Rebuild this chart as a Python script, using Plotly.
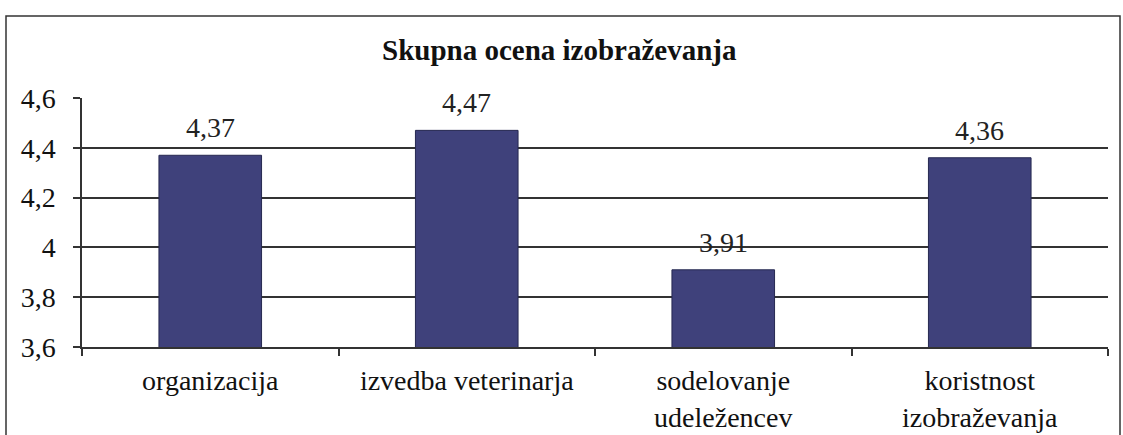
import plotly.graph_objects as go

categories = ["organizacija", "izvedba veterinarja", "sodelovanje<br>udeležencev", "koristnost<br>izobraževanja"]
values = [4.37, 4.47, 3.91, 4.36]
value_labels = ["4,37", "4,47", "3,91", "4,36"]
y_ticks = [3.6, 3.8, 4.0, 4.2, 4.4, 4.6]
title_text = "Skupna ocena izobraževanja"

FONT = "Liberation Serif"
FS = 28

fig = go.Figure(go.Bar(
    x=categories, y=values,
    width=0.4,
    marker=dict(color="#3f417b", line=dict(color="#262850", width=1)),
    hoverinfo="skip",
))

W, H = 1123, 435
L, T = 82, 98
R = W - 1108
B = H - 347
pw, ph = W - L - R, H - T - B

def px(x):
    return (x - L) / pw

def py(y):
    return (H - B - y) / ph

annotations = [dict(text="<b>" + title_text + "</b>", xref="paper", yref="paper",
                    x=px(559), y=py(50), showarrow=False, xanchor="center", yanchor="middle",
                    font=dict(family=FONT, size=29, color="#111"))]
for c, v, lab in zip(categories, values, value_labels):
    annotations.append(dict(text=lab, x=c, y=v, xref="x", yref="y", showarrow=False,
                            xanchor="center", yanchor="bottom", yshift=10,
                            font=dict(family=FONT, size=FS, color="#222")))

fig.update_layout(
    width=W, height=H,
    margin=dict(l=L, r=R, t=T, b=B, autoexpand=False),
    paper_bgcolor="white", plot_bgcolor="white",
    separators=", ",
    showlegend=False,
    font=dict(family=FONT, size=FS, color="#111"),
    xaxis=dict(showline=True, linecolor="#333", linewidth=1.5, automargin=False,
               ticks="outside", tickson="boundaries", ticklen=7, tickcolor="#333",
               tickwidth=1.5, ticklabelstandoff=8,
               tickfont=dict(family=FONT, size=FS, color="#111")),
    yaxis=dict(range=[3.6, 4.6], tickvals=y_ticks, showgrid=True, gridcolor="#333",
               gridwidth=1.5, showline=True, linecolor="#333", linewidth=1.5,
               ticks="outside", ticklen=7, tickcolor="#333", tickwidth=1.5,
               ticklabelstandoff=12, zeroline=False, automargin=False,
               tickfont=dict(family=FONT, size=FS, color="#111")),
    annotations=annotations,
    shapes=[dict(type="rect", xref="paper", yref="paper",
                 x0=px(6), x1=px(1120), y0=py(450), y1=py(16),
                 line=dict(color="#333", width=1.5), layer="below")],
)

fig.write_html("out.html", config={"displayModeBar": False},
               post_script="document.body.style.margin='0';")
